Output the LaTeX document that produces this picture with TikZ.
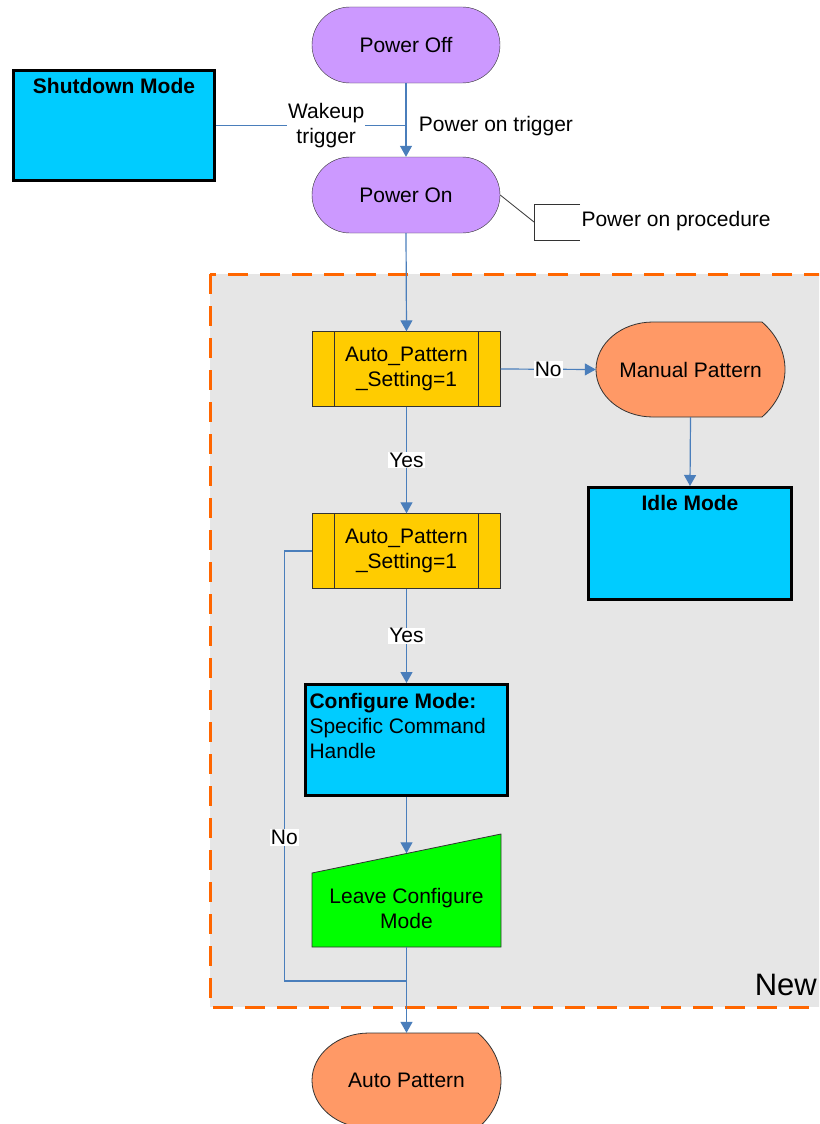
\documentclass[tikz,border=0pt]{standalone}
\usepackage{fontspec}
\setmainfont{Liberation Sans}
\usetikzlibrary{shapes,% flowchart shapes
arrows.meta,%          triangle tips on the flow lines
calc}
\definecolor{stateviolet}{HTML}{CC99FF}
\definecolor{modecyan}{HTML}{00CCFF}
\definecolor{checkyellow}{HTML}{FFCC00}
\definecolor{patternorange}{HTML}{FF9966}
\definecolor{leavegreen}{HTML}{00FF00}
\definecolor{flowblue}{HTML}{4A7EBB}
\definecolor{groupgray}{HTML}{E6E6E6}
\definecolor{groupline}{HTML}{FF6600}
\tikzset{every node/.style={font=\fontsize{21}{25}\selectfont}}
\tikzset{
  terminal/.style={draw=black!80, fill=stateviolet, rounded corners=38pt,
                   minimum width=188pt, minimum height=76pt},
  modebox/.style={draw=black, line width=3pt, fill=modecyan},
  checkbox/.style={draw=black!80, fill=checkyellow, align=center,
                   minimum width=188pt, minimum height=75pt},
  flow/.style={draw=flowblue, line width=1.2pt, -{Triangle[length=11pt,width=12pt]}},
  plainflow/.style={draw=flowblue, line width=1.2pt},
  flowlabel/.style={fill=white, inner sep=1pt},
  shapeline/.style={draw=black!80, line width=0.8pt}
}

\begin{document}
\begin{tikzpicture}[x=1pt,y=-1pt]
\useasboundingbox (0,0) rectangle (819,1124);
\clip (0,0) rectangle (819,1124);

% group box
\filldraw[fill=groupgray, draw=groupline, line width=3pt, dash pattern=on 20pt off 12pt]
  (210,274) rectangle (840,1007);
\node[anchor=base east, inner sep=0, font=\fontsize{31}{36}\selectfont] (grouplabel) at (817,995) {New};

% shapes drawn by hand
\filldraw[shapeline, fill=patternorange]
  (653,322) -- (762,322) .. controls (777,335) and (785,352) .. (785,369.5)
  .. controls (785,387) and (777,404) .. (762,417) -- (653,417)
  .. controls (621.5,417) and (596,395.7) .. (596,369.5)
  .. controls (596,343.3) and (621.5,322) .. cycle;
\filldraw[shapeline, fill=patternorange]
  (369,1033) -- (478,1033) .. controls (493,1046) and (501,1063) .. (501,1080.5)
  .. controls (501,1098) and (493,1115) .. (478,1128) -- (369,1128)
  .. controls (337.5,1128) and (312,1106.7) .. (312,1080.5)
  .. controls (312,1054.3) and (337.5,1033) .. cycle;
\filldraw[shapeline, fill=leavegreen]
  (312,873) -- (501,834) -- (501,947) -- (312,947) -- cycle;

% nodes
\node[terminal] (powoff) at (406,45) {Power Off};
\node[terminal] (powon) at (406,195) {Power On};
\node[modebox, minimum width=201pt, minimum height=110pt,
      label={[anchor=north, yshift=-6pt]north:{\bfseries Shutdown Mode}}]
      (shutdown) at (114,125.5) {};
\node[anchor=west] (procnote) at (578,221) {Power on procedure};
\node[checkbox] (auto1) at (406.5,369) {Auto\_Pattern\\\_Setting=1};
\node[checkbox] (auto2) at (406.5,551) {Auto\_Pattern\\\_Setting=1};
\node[minimum width=189pt, minimum height=95pt] (manual) at (690.5,369.5) {Manual Pattern};
\node[modebox, minimum width=203pt, minimum height=112pt,
      label={[anchor=north, yshift=-6pt]north:{\bfseries Idle Mode}}]
      (idle) at (690,543.5) {};
\node[modebox, minimum width=202pt, minimum height=111pt,
      label={[anchor=north west, yshift=-7pt, xshift=2pt, align=left]north west:{\textbf{Configure Mode:}\\Specific Command\\Handle}}]
      (config) at (406.5,740) {};
\node[minimum width=189pt, minimum height=113pt] (leave) at (406.5,890.5) {};
\node[align=center] (leavetext) at (406.5,908.5) {Leave Configure\\Mode};
\node[minimum width=189pt, minimum height=95pt] (autopat) at (406.5,1080.5) {Auto Pattern};

\foreach \chk in {auto1,auto2}{
  \draw[shapeline] ([xshift=22pt]\chk.north west) -- ([xshift=22pt]\chk.south west);
  \draw[shapeline] ([xshift=-22pt]\chk.north east) -- ([xshift=-22pt]\chk.south east);
}

% joins
\coordinate (wakejoin) at (powoff.south |- shutdown.east);
\coordinate (bracket) at (534,222);
\coordinate (nojoin) at (406.5,981);

% connectors
\draw[flow] (powoff.south) -- node[right, pos=0.58, xshift=9pt] {Power on trigger} (powon.north);
\draw[plainflow] (shutdown.east) -- node[flowlabel, align=center, pos=0.58] {Wakeup\\trigger} (wakejoin);
\draw[shapeline] (powon.east) -- (bracket);
\draw[shapeline] ($(bracket)+(46,-18)$) -- ($(bracket)+(0,-18)$) -- ($(bracket)+(0,18)$) -- ($(bracket)+(46,18)$);
\draw[flow] (powon.south) -- (auto1.north);
\draw[flow] (auto1.east) -- node[flowlabel] {No} (manual.west);
\draw[flow] (manual.south) -- (idle.north);
\draw[flow] (auto1.south) -- node[flowlabel] {Yes} (auto2.north);
\draw[flow] (auto2.south) -- node[flowlabel] {Yes} (config.north);
\draw[flow] (config.south) -- ($(leave.north)+(0,19.5)$);
\draw[plainflow] (auto2.west) -- ++(-28,0) |- node[flowlabel, pos=0.333] {No} (nojoin);
\draw[flow] (leave.south) -- (autopat.north);
\end{tikzpicture}
\end{document}
